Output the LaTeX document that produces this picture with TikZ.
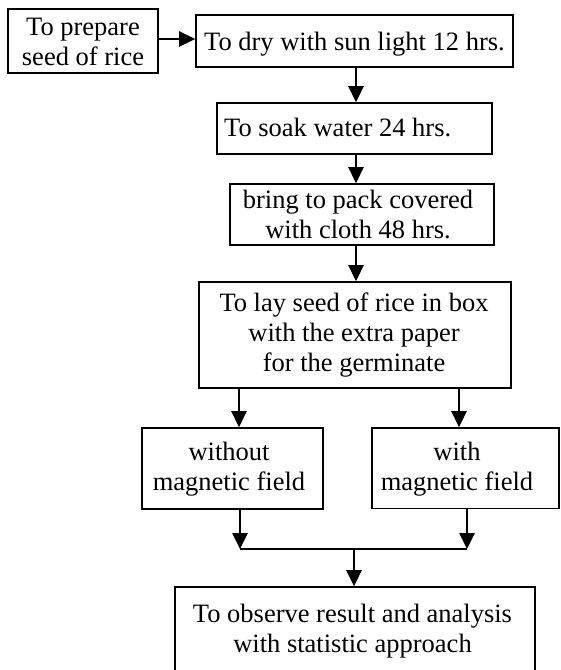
\documentclass[tikz,border=0pt]{standalone}
\usepackage{fontspec}
\setmainfont{Liberation Serif}
\usetikzlibrary{arrows.meta}
\begin{document}
\begin{tikzpicture}[x=1pt,y=-1pt,
  box/.style={draw, line width=1.6pt, inner sep=0pt, anchor=center},
  txt/.style={font=\fontsize{26.5}{30}\selectfont, inner sep=0pt, anchor=base},
  arr/.style={line width=2.6pt, -{Triangle[length=16pt,width=15pt]}},
  joinline/.style={line width=2pt}]
\useasboundingbox (0,0) rectangle (561,670);
% boxes
\node[box, minimum width=150pt, minimum height=64pt] (A) at (83,41) {};
\node[box, minimum width=317pt, minimum height=51.7pt] (B) at (354.5,40.85) {};
\node[box, minimum width=275pt, minimum height=51pt] (C) at (354.5,128.5) {};
\node[box, minimum width=264pt, minimum height=61pt] (D) at (362,214.5) {};
\node[box, minimum width=312pt, minimum height=106pt] (E) at (355,335) {};
\node[box, minimum width=181pt, minimum height=81pt] (F) at (232.5,468.5) {};
\node[box, minimum width=187pt, minimum height=80.5pt] (G) at (465.5,468.25) {};
\node[box, minimum width=360pt, minimum height=86pt] (H) at (355,630) {};
% texts
\node[txt] (tA1) at (83,35.7) {To prepare};
\node[txt] (tA2) at (83,65) {seed of rice};
\node[txt] (tB) at (354.5,50) {To dry with sun light 12 hrs.};
\node[txt, anchor=base west] (tC) at (224,136) {To soak water 24 hrs.};
\node[txt] (tD1) at (358,208.3) {bring to pack covered};
\node[txt] (tD2) at (358,238.3) {with cloth 48 hrs.};
\node[txt] (tE1) at (354,311.7) {To lay seed of rice in box};
\node[txt] (tE2) at (354,341.7) {with the extra paper};
\node[txt] (tE3) at (354,371.7) {for the germinate};
\node[txt] (tF1) at (229,460) {without};
\node[txt] (tF2) at (229,490) {magnetic field};
\node[txt] (tG1) at (457,460) {with};
\node[txt] (tG2) at (457,490) {magnetic field};
\node[txt] (tH1) at (352.5,622) {To observe result and analysis};
\node[txt] (tH2) at (352.5,652) {with statistic approach};
% join points
\coordinate (jl) at (240,549);
\coordinate (jr) at (467,549);
\coordinate (jm) at (354,549);
% connectors
\draw[arr] ([yshift=2pt]A.east) -- ([yshift=2pt]A.east -| B.west);
\draw[arr] ([xshift=1.5pt]B.south) -- ([xshift=1.5pt]B.south |- C.north);
\draw[arr] ([xshift=1.5pt]C.south) -- ([xshift=1.5pt]C.south |- D.north);
\draw[arr] ([xshift=1pt]E.north |- D.south) -- ([xshift=1pt]E.north);
\draw[arr] ([xshift=6.5pt]F.north |- E.south) -- ([xshift=6.5pt]F.north);
\draw[arr] ([xshift=-6.5pt]G.north |- E.south) -- ([xshift=-6.5pt]G.north);
\draw[arr] (jl |- F.south) -- (jl);
\draw[arr] (jr |- G.south) -- (jr);
\draw[joinline] (jl) -- (jr);
\draw[arr] (jm) -- (jm |- H.north);
\end{tikzpicture}
\end{document}
